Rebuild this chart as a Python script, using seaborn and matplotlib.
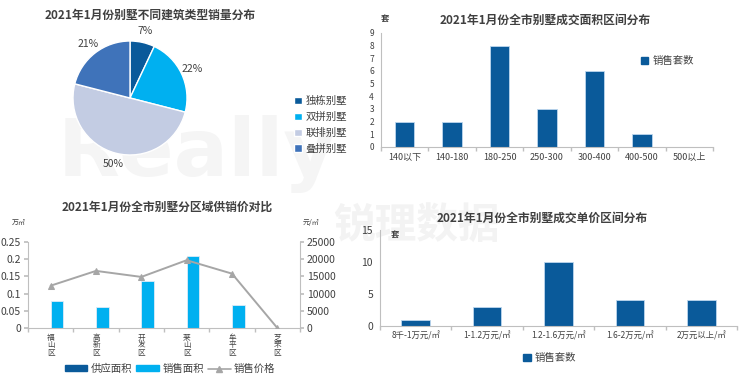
import numpy as np
import pandas as pd
import matplotlib
matplotlib.use('Agg')
import matplotlib.pyplot as plt
import seaborn as sns
from matplotlib.patches import Patch
from matplotlib.lines import Line2D

# data
pie_labels = ['独栋别墅', '双拼别墅', '联排别墅', '叠拼别墅']
pie_values = [7, 22, 50, 21]

area_bins = ['140以下', '140-180', '180-250', '250-300', '300-400', '400-500', '500以上']
area_counts = [2, 2, 8, 3, 6, 1, 0]

districts = ['福山区', '高新区', '开发区', '莱山区', '牟平区', '芝罘区']
supply_area = [0, 0, 0, 0, 0, 0]
sales_area = [0.078, 0.061, 0.138, 0.209, 0.066, 0]
sales_price = [12300, 16600, 14850, 19700, 15800, 0]

price_bins = ['8千-1万元/㎡', '1-1.2万元/㎡', '1.2-1.6万元/㎡', '1.6-2万元/㎡', '2万元以上/㎡']
price_counts = [1, 3, 10, 4, 4]

DARK = '#0A5A9A'
CYAN = '#00B0F0'
LAV = '#C3CCE3'
MID = '#3F73BA'
GREY = '#A6A6A6'
TXT = '#404040'

sns.set_theme(style='white')
plt.rcParams['font.family'] = ['Noto Sans CJK SC', 'DejaVu Sans']
plt.rcParams['axes.unicode_minus'] = False

W, H = 740, 391
fig = plt.figure(figsize=(W / 100, H / 100), dpi=100)


def box(x0, y0, x1, y1):
    # pixel box (top-left origin) -> figure fraction
    return [x0 / W, 1 - y1 / H, (x1 - x0) / W, (y1 - y0) / H]


# faint watermark behind the charts
fig.text(58 / W, 1 - 176 / H, 'Really', fontsize=58, fontweight='bold',
         color='#f5f5f5', family='DejaVu Sans', zorder=-5)
fig.text(333 / W, 1 - 238 / H, '锐理数据', fontsize=30, fontweight='bold',
         color='#f3f3f3', zorder=-5)


def style_axis(ax, ylabel_size=6.5):
    for s in ['top', 'right']:
        ax.spines[s].set_visible(False)
    for s in ['left', 'bottom']:
        ax.spines[s].set_color('#BFBFBF')
        ax.spines[s].set_linewidth(0.8)
    ax.set_facecolor('none')
    ax.tick_params(axis='y', length=3, color='#BFBFBF', labelsize=ylabel_size, labelcolor=TXT, pad=2)
    ax.tick_params(axis='x', length=0, labelsize=6.5, labelcolor=TXT, pad=4)


def cat_ticks(ax, n):
    ax.set_xticks(np.arange(-0.5, n, 1.0), minor=True)
    ax.tick_params(axis='x', which='minor', length=3, color='#BFBFBF', bottom=True)
    ax.set_xlim(-0.5, n - 0.5)


# ---- pie ----
ax1 = fig.add_axes(box(73, 41, 187, 155))
ax1.set_facecolor('none')
wedges, texts, autotexts = ax1.pie(pie_values, colors=[DARK, CYAN, LAV, MID], startangle=90,
                                   counterclock=False, autopct='%d%%', pctdistance=1.2,
                                   textprops={'fontsize': 7.5, 'color': TXT})
ax1.set_xlim(-1, 1)
ax1.set_ylim(-1, 1)
ax1.set_aspect('equal')
fig.text(150 / W, 1 - 15 / H, '2021年1月份别墅不同建筑类型销量分布', ha='center', va='center',
         fontsize=8.5, fontweight='bold', color=TXT)
fig.legend(wedges, pie_labels, loc='center left', bbox_to_anchor=(285 / W, 1 - 125 / H),
           frameon=False, fontsize=7.5, handlelength=0.7, handleheight=0.7, handletextpad=0.4,
           labelspacing=0.55, labelcolor=TXT)

# ---- area distribution ----
ax2 = fig.add_axes(box(381, 33, 713, 147))
df_area = pd.DataFrame({'bin': area_bins, 'n': area_counts})
sns.barplot(data=df_area, x='bin', y='n', color=DARK, width=0.41, saturation=1,
            edgecolor='#BDD7EE', linewidth=0.6, ax=ax2)
ax2.set_ylim(0, 9)
ax2.set_yticks(range(0, 10))
style_axis(ax2, 6)
cat_ticks(ax2, len(area_bins))
ax2.set_xlabel('')
ax2.set_ylabel('')
ax2.text(0.0, 1.11, '套', transform=ax2.transAxes, fontsize=6, fontweight='bold', color=TXT)
fig.text(545 / W, 1 - 20 / H, '2021年1月份全市别墅成交面积区间分布', ha='center', va='center',
         fontsize=8.5, fontweight='bold', color=TXT)
ax2.legend([Patch(color=DARK)], ['销售套数'], loc='center left', bbox_to_anchor=(0.755, 0.75),
           frameon=False, fontsize=7.5, handlelength=0.7, handleheight=0.7, handletextpad=0.4,
           labelcolor=TXT)

# ---- district supply/sales/price ----
ax3 = fig.add_axes(box(28, 242, 300, 328))
df_d = pd.DataFrame({'district': districts * 2,
                     'area': supply_area + sales_area,
                     'kind': ['供应面积'] * len(districts) + ['销售面积'] * len(districts)})
sns.barplot(data=df_d, x='district', y='area', hue='kind', palette=[DARK, CYAN],
            width=0.56, saturation=1, edgecolor='#DDEBF7', linewidth=0.6, ax=ax3, legend=False)
ax3.set_ylim(0, 0.25)
ax3.set_yticks([0, 0.05, 0.1, 0.15, 0.2, 0.25])
ax3.set_yticklabels(['0', '0.05', '0.1', '0.15', '0.2', '0.25'])
style_axis(ax3, 7.5)
cat_ticks(ax3, len(districts))
ax3.set_xticks(range(len(districts)))
ax3.set_xticklabels(['\n'.join(d) for d in districts], fontsize=5.5, linespacing=0.95, va='top')
ax3.set_xlabel('')
ax3.set_ylabel('')
ax3b = ax3.twinx()
df_p = pd.DataFrame({'x': np.arange(len(districts)), 'price': sales_price})
sns.lineplot(data=df_p, x='x', y='price', color=GREY, marker='^', markersize=4.5,
             markeredgecolor=GREY, linewidth=1.4, ax=ax3b)
ax3b.set_ylim(0, 25000)
ax3b.set_yticks(range(0, 25001, 5000))
ax3b.set_ylabel('')
ax3b.set_xlabel('')
for s in ['top', 'left', 'bottom']:
    ax3b.spines[s].set_visible(False)
ax3b.spines['right'].set_color('#BFBFBF')
ax3b.spines['right'].set_linewidth(0.8)
ax3b.tick_params(axis='y', length=3, color='#BFBFBF', labelsize=7.5, labelcolor=TXT, pad=2)
ax3b.set_xlim(-0.5, len(districts) - 0.5)
ax3.text(-0.06, 1.2, '万㎡', transform=ax3.transAxes, fontsize=5, color=TXT, ha='left')
ax3.text(1.01, 1.2, '元/㎡', transform=ax3.transAxes, fontsize=5, color=TXT, ha='left')
fig.text(167 / W, 1 - 207 / H, '2021年1月份全市别墅分区域供销价对比', ha='center', va='center',
         fontsize=8.5, fontweight='bold', color=TXT)
handles3 = [Patch(color=DARK), Patch(color=CYAN),
            Line2D([0], [0], color=GREY, marker='^', markersize=4, linewidth=1.2)]
fig.legend(handles3, ['供应面积', '销售面积', '销售价格'], loc='center',
           bbox_to_anchor=(170 / W, 1 - 369 / H), ncol=3, frameon=False, fontsize=7.5,
           handlelength=2.2, handleheight=0.5, handletextpad=0.3, columnspacing=0.4,
           labelcolor=TXT)

# ---- unit price distribution ----
ax4 = fig.add_axes(box(380, 230, 737, 326))
df_pr = pd.DataFrame({'bin': price_bins, 'n': price_counts})
sns.barplot(data=df_pr, x='bin', y='n', color=DARK, width=0.4, saturation=1,
            edgecolor='#BDD7EE', linewidth=0.6, ax=ax4)
ax4.set_ylim(0, 15)
ax4.set_yticks([0, 5, 10, 15])
style_axis(ax4, 7.5)
cat_ticks(ax4, len(price_bins))
ax4.tick_params(axis='x', labelsize=6)
ax4.set_xlabel('')
ax4.set_ylabel('')
ax4.text(0.03, 0.93, '套', transform=ax4.transAxes, fontsize=6, fontweight='bold', color=TXT)
fig.text(542 / W, 1 - 218 / H, '2021年1月份全市别墅成交单价区间分布', ha='center', va='center',
         fontsize=8.5, fontweight='bold', color=TXT)
fig.legend([Patch(color=DARK)], ['销售套数'], loc='center left', bbox_to_anchor=(514 / W, 1 - 358 / H),
           frameon=False, fontsize=7.5, handlelength=0.7, handleheight=0.7, handletextpad=0.4,
           labelcolor=TXT)

fig.savefig('out.png', dpi=100, facecolor='white')
